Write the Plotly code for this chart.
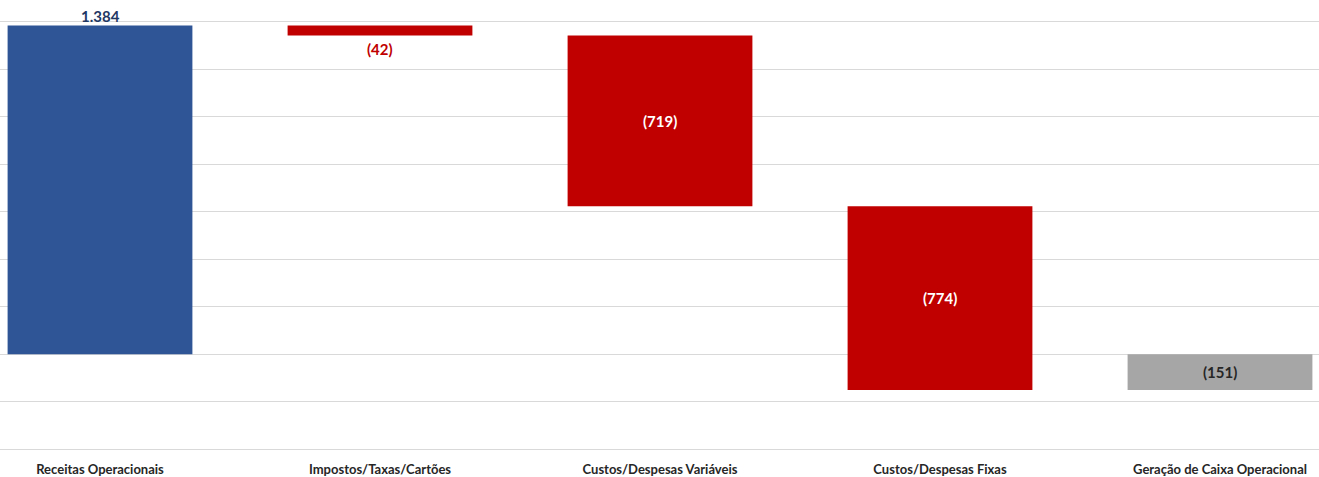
import plotly.graph_objects as go

categories = ["Receitas Operacionais", "Impostos/Taxas/Cartões", "Custos/Despesas Variáveis",
              "Custos/Despesas Fixas", "Geração de Caixa Operacional"]
values = [1384, -42, -719, -774, -151]
measures = ["relative", "relative", "relative", "relative", "total"]


def fmt(v):
    s = f"{abs(v):,}".replace(",", ".")
    return f"({s})" if v < 0 else s


FONT = "Lato"
fig = go.Figure()
fig.add_trace(go.Waterfall(
    x=categories, y=values, measure=measures,
    increasing=dict(marker=dict(color="#2F5597")),
    decreasing=dict(marker=dict(color="#C00000")),
    totals=dict(marker=dict(color="#A6A6A6")),
    connector=dict(visible=False),
    width=0.66, hoverinfo="skip", showlegend=False,
))

# label positions from cumulative values
cum = 0
annotations = []
for i, (c, v, m) in enumerate(zip(categories, values, measures)):
    if m == "total":
        start, end = 0, cum
    else:
        start, end = cum, cum + v
        cum = end
    txt = fmt(v)
    if i == 0:
        annotations.append(dict(x=c, y=end, text=f"<b>{txt}</b>", showarrow=False, yanchor="bottom",
                                yshift=-1, font=dict(family=FONT, size=15, color="#1F3864")))
    elif i == 1:
        annotations.append(dict(x=c, y=end, text=f"<b>{txt}</b>", showarrow=False, yanchor="top",
                                yshift=-2, font=dict(family=FONT, size=15, color="#C00000")))
    else:
        color = "#262626" if m == "total" else "white"
        annotations.append(dict(x=c, y=(start + end) / 2, text=f"<b>{txt}</b>", showarrow=False,
                                yanchor="middle", font=dict(family=FONT, size=15, color=color)))

fig.update_layout(
    width=1319, height=477,
    margin=dict(l=0, r=0, t=17, b=23, autoexpand=False),
    paper_bgcolor="white", plot_bgcolor="white",
    annotations=annotations,
    font=dict(family=FONT),
    xaxis=dict(type="category", range=[-100 / 280, 1219 / 280], showgrid=False, showline=False,
               automargin=False,
               ticks="outside", ticklen=3, tickcolor="rgba(0,0,0,0)",
               tickfont=dict(family=FONT, size=13, color="#262626"),
               ticktext=[f"<b>{c}</b>" for c in categories], tickvals=categories),
    yaxis=dict(range=[-420, 1420], dtick=200, showticklabels=False, showgrid=True, automargin=False,
               gridcolor="#D9D9D9", gridwidth=1, zeroline=False, showline=False),
)

fig.write_html("out.html", post_script="document.body.style.margin='0';",
               config={"displayModeBar": False})
